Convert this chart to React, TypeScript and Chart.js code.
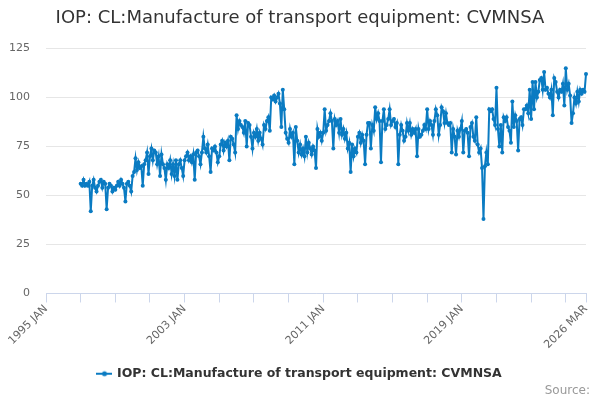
import { useEffect, useRef } from "react";
import { Chart, registerables } from "chart.js";

Chart.register(...registerables);

const TITLE = "IOP: CL:Manufacture of transport equipment: CVMNSA";
const SERIES_NAME = "IOP: CL:Manufacture of transport equipment: CVMNSA";

const MONTHS = ["JAN", "FEB", "MAR", "APR", "MAY", "JUN", "JUL", "AUG", "SEP", "OCT", "NOV", "DEC"];
const AXIS_START_YEAR = 1995;
const DATA_START_YEAR = 1997;
const END_YEAR = 2026;
const END_MONTHS = 3; // data runs to 2026 MAR

const SHOWN_TICK_LABELS = ["1995 JAN", "2003 JAN", "2011 JAN", "2019 JAN", "2026 MAR"];
const Y_TICKS = [0, 25, 50, 75, 100, 125];

// monthly index values, JAN..DEC, one row per year from 1997
const cvmnsa = [
    56, 55, 58, 55, 56, 55, 57, 42, 55, 58, 54, 52, // 1997
    55, 57, 58, 54, 57, 56, 43, 54, 56, 55, 52, 54, // 1998
    53, 55, 57, 55, 58, 56, 54, 47, 56, 57, 55, 52, // 1999
    60, 62, 69, 63, 67, 64, 65, 55, 66, 68, 72, 61, // 2000
    70, 74, 68, 73, 72, 66, 70, 60, 71, 66, 64, 58, // 2001
    66, 64, 68, 61, 66, 60, 68, 58, 66, 68, 64, 60, // 2002
    68, 70, 72, 68, 70, 67, 71, 58, 72, 73, 70, 66, // 2003
    72, 80, 74, 72, 76, 70, 62, 74, 73, 75, 72, 67, // 2004
    70, 76, 78, 73, 77, 75, 78, 68, 80, 79, 76, 72, // 2005
    91, 84, 88, 86, 85, 82, 88, 75, 87, 86, 80, 74, // 2006
    82, 80, 84, 78, 82, 79, 76, 86, 84, 88, 90, 83, // 2007
    100, 99, 101, 98, 100, 102, 97, 85, 104, 94, 82, 79, // 2008
    77, 84, 80, 82, 66, 85, 78, 72, 76, 71, 74, 70, // 2009
    80, 72, 77, 74, 71, 75, 73, 64, 84, 80, 82, 78, // 2010
    82, 94, 83, 86, 88, 92, 88, 74, 89, 86, 88, 82, // 2011
    89, 81, 84, 79, 82, 74, 77, 62, 76, 70, 74, 72, // 2012
    80, 82, 77, 81, 78, 66, 81, 87, 87, 74, 86, 83, // 2013
    95, 89, 92, 88, 67, 88, 94, 84, 86, 89, 94, 86, // 2014
    88, 89, 85, 87, 66, 81, 86, 83, 78, 80, 87, 83, // 2015
    87, 81, 84, 82, 84, 70, 84, 80, 81, 83, 86, 84, // 2016
    94, 84, 88, 86, 81, 88, 94, 91, 81, 86, 95, 93, // 2017
    87, 92, 87, 86, 87, 72, 84, 80, 71, 83, 80, 84, // 2018
    88, 72, 83, 84, 82, 70, 85, 87, 80, 78, 90, 76, // 2019
    72, 74, 64, 38, 65, 72, 66, 94, 93, 94, 89, 86, // 2020
    105, 84, 75, 86, 72, 90, 88, 90, 85, 83, 77, 98, // 2021
    85, 91, 88, 73, 89, 90, 86, 94, 94, 96, 92, 104, // 2022
    89, 108, 94, 108, 100, 103, 109, 110, 104, 113, 104, 105, // 2023
    102, 100, 104, 91, 110, 108, 103, 100, 104, 103, 107, 96, // 2024
    115, 104, 107, 101, 87, 92, 100, 97, 103, 98, 104, 102, // 2025
    104, 103, 112, // 2026
];

const LINE_COLOR = "#0a7bc2";

function buildLabels() {
    const out: string[] = [];
    for (let y = AXIS_START_YEAR; y <= END_YEAR; y++) {
        const n = y === END_YEAR ? END_MONTHS : 12;
        for (let m = 0; m < n; m++) out.push(`${y} ${MONTHS[m]}`);
    }
    return out;
}

// little "line with a dot" legend marker, Highcharts style
function legendMarker() {
    const c = document.createElement("canvas");
    c.width = 16;
    c.height = 8;
    const g = c.getContext("2d")!;
    g.strokeStyle = LINE_COLOR;
    g.lineWidth = 2;
    g.beginPath();
    g.moveTo(0, 4);
    g.lineTo(16, 4);
    g.stroke();
    g.fillStyle = LINE_COLOR;
    g.beginPath();
    g.arc(8, 4, 2.5, 0, Math.PI * 2);
    g.fill();
    return c;
}

const sourcePlugin = {
    id: "sourceNote",
    afterDraw(chart: Chart) {
        const ctx = chart.ctx;
        ctx.save();
        ctx.font = "12px 'DejaVu Sans', sans-serif";
        ctx.fillStyle = "#999999";
        ctx.textAlign = "right";
        ctx.textBaseline = "alphabetic";
        ctx.fillText("Source:", chart.width - 10, chart.height - 6);
        ctx.restore();
    },
};

export default function App() {
    const canvasRef = useRef<HTMLCanvasElement>(null);
    const chartRef = useRef<Chart | null>(null);

    useEffect(() => {
        if (!canvasRef.current) return;
        if (chartRef.current) chartRef.current.destroy();

        Chart.defaults.font.family = "'DejaVu Sans', sans-serif";

        const labels = buildLabels();
        const lead = labels.indexOf(`${DATA_START_YEAR} JAN`);
        const values: (number | null)[] = [...new Array(lead).fill(null), ...cvmnsa];

        // tick marks every two years plus the final month
        const tickIdx: number[] = [];
        for (let i = 0; i < labels.length; i += 24) tickIdx.push(i);
        tickIdx.push(labels.length - 1);

        chartRef.current = new Chart(canvasRef.current, {
            type: "line",
            data: {
                labels,
                datasets: [
                    {
                        label: SERIES_NAME,
                        data: values,
                        borderColor: LINE_COLOR,
                        backgroundColor: LINE_COLOR,
                        borderWidth: 2,
                        pointRadius: 2,
                        pointBackgroundColor: LINE_COLOR,
                        pointBorderWidth: 0,
                        tension: 0,
                        spanGaps: false,
                    },
                ],
            },
            options: {
                animation: false,
                responsive: true,
                maintainAspectRatio: false,
                layout: { padding: { left: 0, right: 0, top: 4, bottom: 10 } },
                plugins: {
                    title: {
                        display: true,
                        text: TITLE,
                        color: "#333333",
                        font: { size: 18, weight: "normal" },
                        padding: { top: 4, bottom: 19 },
                    },
                    legend: {
                        display: true,
                        position: "bottom",
                        labels: {
                            color: "#333333",
                            font: { size: 12.5, weight: "bold" },
                            usePointStyle: true,
                            pointStyle: legendMarker(),
                            padding: 16,
                        },
                    },
                    tooltip: { enabled: false },
                },
                scales: {
                    x: {
                        type: "category",
                        offset: false,
                        afterBuildTicks: (axis) => {
                            axis.ticks = tickIdx.map((v) => ({ value: v }));
                        },
                        afterFit: (axis) => {
                            // slanted first label hangs into the left margin; keep a 14px right margin
                            axis.paddingLeft = 0;
                            axis.paddingRight = 14;
                        },
                        grid: {
                            drawOnChartArea: false,
                            drawTicks: true,
                            tickLength: 9,
                            color: "#ccd6eb",
                        },
                        border: { color: "#ccd6eb" },
                        ticks: {
                            autoSkip: false,
                            maxRotation: 45,
                            minRotation: 45,
                            color: "#666666",
                            font: { size: 11 },
                            padding: 0,
                            callback: (v) => {
                                const lab = labels[Number(v)];
                                return SHOWN_TICK_LABELS.includes(lab) ? lab : "";
                            },
                        },
                    },
                    y: {
                        min: Y_TICKS[0],
                        max: Y_TICKS[Y_TICKS.length - 1],
                        afterFit: (axis) => {
                            axis.width = 46;
                        },
                        grid: { color: "#e6e6e6", drawTicks: false },
                        border: { display: false },
                        ticks: {
                            stepSize: 25,
                            color: "#666666",
                            font: { size: 11 },
                            padding: 16,
                        },
                    },
                },
            },
            plugins: [sourcePlugin],
        });

        return () => {
            chartRef.current?.destroy();
            chartRef.current = null;
        };
    }, []);

    return (
        <div style={{ position: "absolute", left: 0, top: 0, width: "600px", height: "400px" }}>
            <canvas
                ref={canvasRef}
                role="img"
                aria-label="Line chart of IOP: CL:Manufacture of transport equipment: CVMNSA, monthly 1997 to 2026"
            />
        </div>
    );
}
